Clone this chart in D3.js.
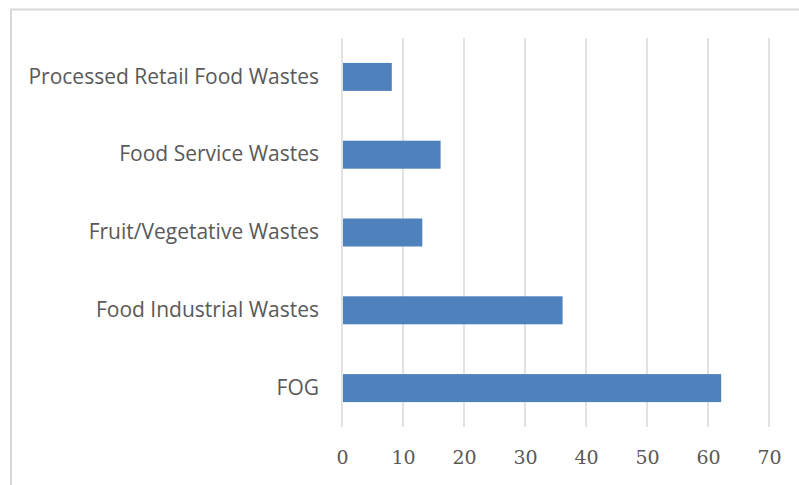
<!DOCTYPE html>
<meta charset="utf-8">
<script src="https://d3js.org/d3.v7.min.js"></script>
<style>
body { margin: 0; background: #fff; }
</style>
<div id="chart"></div>
<script>
// data
var categories = ["Processed Retail Food Wastes", "Food Service Wastes", "Fruit/Vegetative Wastes", "Food Industrial Wastes", "FOG"];
var values = [8, 16, 13, 36, 62];
var ticks = [0, 10, 20, 30, 40, 50, 60, 70];

var W = 799, H = 485;
var margin = {top: 38, right: 30, bottom: 58, left: 342};
var width = 769 - margin.left,
    height = 427 - margin.top;

var svg = d3.select("#chart").append("svg")
  .attr("width", W)
  .attr("height", H);

// chart frame (right and bottom cut off in the picture)
svg.append("path")
  .attr("d", "M11,485 V9.5 H799")
  .attr("fill", "none")
  .attr("stroke", "#d9d9d9")
  .attr("stroke-width", 2);

var g = svg.append("g")
  .attr("transform", "translate(" + margin.left + "," + margin.top + ")");

var x = d3.scaleLinear().domain([0, 70]).range([0, width]);
var y = d3.scaleBand().domain(categories).range([0, height])
  .paddingInner(0.64).paddingOuter(0.32);

// gridlines
g.selectAll(".grid")
  .data(ticks)
  .enter().append("line")
    .attr("x1", function(d) { return x(d); })
    .attr("x2", function(d) { return x(d); })
    .attr("y1", 0)
    .attr("y2", height)
    .attr("stroke", "#d9d9d9")
    .attr("stroke-width", 1.5);

// bars
g.selectAll(".bar")
  .data(values)
  .enter().append("rect")
    .attr("x", x(0) + 1)
    .attr("y", function(d, i) { return y(categories[i]); })
    .attr("width", function(d) { return x(d) - x(0); })
    .attr("height", y.bandwidth())
    .attr("fill", "#4f81bd");

// x axis labels
var xAxis = g.append("g")
  .attr("transform", "translate(0," + height + ")")
  .call(d3.axisBottom(x).tickValues(ticks).tickSize(0).tickPadding(24));
xAxis.select(".domain").remove();
xAxis.selectAll("text")
  .attr("fill", "#595959")
  .style("font-family", "'DejaVu Serif', 'Liberation Serif', serif")
  .style("font-size", "19px");

// y axis labels
var yAxis = g.append("g")
  .call(d3.axisLeft(y).tickSize(0).tickPadding(23));
yAxis.select(".domain").remove();
yAxis.selectAll("text")
  .attr("fill", "#595959")
  .style("font-family", "'Open Sans', 'Noto Sans', sans-serif")
  .style("font-size", "21px");
</script>
